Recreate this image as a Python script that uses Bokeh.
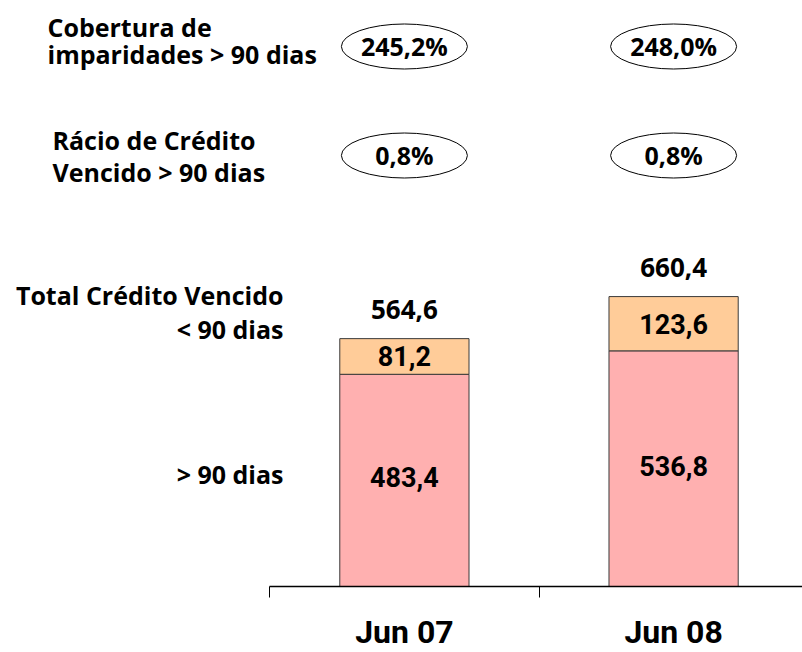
from bokeh.plotting import figure
from bokeh.models import Range1d, FixedTicker, ColumnDataSource
from bokeh.core.properties import value
from bokeh.embed import file_html
from bokeh.resources import INLINE

# ---- data ----
categories = ["Jun 07", "Jun 08"]
over_90 = [483.4, 536.8]       # Crédito vencido > 90 dias
under_90 = [81.2, 123.6]       # Crédito vencido < 90 dias
coverage = [245.2, 248.0]      # Cobertura de imparidades > 90 dias (%)
overdue_ratio = [0.8, 0.8]     # Rácio de crédito vencido > 90 dias (%)

def fmt(v, suffix=""):
    return f"{v:.1f}".replace(".", ",") + suffix

totals = [a + b for a, b in zip(over_90, under_90)]
n = len(categories)
xc = [i + 0.5 for i in range(n)]

# ---- layout geometry (pixels from the picture's top-left) ----
W, H = 802, 652
AX_Y = 586.0
PPU = 0.439
CAT0 = 269.3
CATW = 269.2

def X(px):
    return (px - CAT0) / CATW

def Y(py):
    return (AX_Y - py) / PPU

SANS = "Open Sans"
NARROW = "Roboto"

p = figure(width=W, height=H, output_backend="svg", toolbar_location=None,
           x_range=Range1d(X(0), X(W)), y_range=Range1d(Y(H), Y(0)),
           min_border=0, y_axis_location=None)
p.grid.visible = False
p.outline_line_color = None
p.background_fill_color = "white"
p.border_fill_color = "white"

ax = p.xaxis[0]
ax.ticker = FixedTicker(ticks=xc, minor_ticks=list(range(n + 1)))
ax.major_label_overrides = {x: c for x, c in zip(xc, categories)}
ax.fixed_location = 0
ax.bounds = (0, n)
ax.major_tick_line_color = None
ax.major_tick_in = 0
ax.major_tick_out = 0
ax.minor_tick_line_color = "black"
ax.minor_tick_in = 0
ax.minor_tick_out = 11
ax.minor_tick_line_width = 1
ax.axis_line_color = "black"
ax.axis_line_width = 1.5
ax.major_label_text_font = NARROW
ax.major_label_text_font_size = "32px"
ax.major_label_text_font_style = "bold"
ax.major_label_text_color = "black"
ax.major_label_standoff = 15

# ---- bars ----
src = ColumnDataSource(dict(
    x=xc, over=over_90, under=under_90, total=totals,
    mid_over=[v / 2 for v in over_90],
    mid_under=[o + u / 2 for o, u in zip(over_90, under_90)],
    lab_over=[fmt(v) for v in over_90],
    lab_under=[fmt(v) for v in under_90],
    lab_total=[fmt(v) for v in totals],
))
BW = 0.48
p.vbar(x="x", width=BW, bottom=0, top="over", source=src,
       fill_color="#FFB0B0", line_color="#3a3a3a", line_width=1)
p.vbar(x="x", width=BW, bottom="over", top="total", source=src,
       fill_color="#FFCC99", line_color="#3a3a3a", line_width=1)

p.text(x="x", y="mid_over", text="lab_over", source=src, y_offset=-3,
       text_font=value(NARROW), text_font_size="27px", text_font_style="bold",
       text_align="center", text_baseline="middle", text_color="black")
p.text(x="x", y="mid_under", text="lab_under", source=src,
       text_font=value(NARROW), text_font_size="27px", text_font_style="bold",
       text_align="center", text_baseline="middle", text_color="black")
p.text(x="x", y="total", text="lab_total", source=src, y_offset=-29,
       text_font=value(SANS), text_font_size="26px", text_font_style="bold",
       text_align="center", text_baseline="middle", text_color="black")

# ---- ellipses with ratios ----
row1_y = Y(46)
row2_y = Y(155)
esrc = ColumnDataSource(dict(
    x=xc + xc,
    y=[row1_y] * n + [row2_y] * n,
    t=[fmt(v, "%") for v in coverage] + [fmt(v, "%") for v in overdue_ratio],
))
p.ellipse(x="x", y="y", width=126, height=45, width_units="screen",
          height_units="screen", source=esrc, fill_color="white",
          line_color="black", line_width=1)
p.text(x="x", y="y", text="t", source=esrc, y_offset=-1,
       text_font=value(SANS), text_font_size="25px", text_font_style="bold",
       text_align="center", text_baseline="middle", text_color="black")

# ---- row labels ----
def label(txt, px, py, align="left"):
    p.text(x=[X(px)], y=[Y(py)], text=[txt], text_font=value(SANS),
           text_font_size="25px", text_font_style="bold", text_align=align,
           text_baseline="middle", text_color="black")

label("Cobertura de", 47, 26)
label("imparidades > 90 dias", 47, 53)
label("Rácio de Crédito", 52, 139)
label("Vencido > 90 dias", 52, 171)
label("Total Crédito Vencido", 283, 294, "right")
label("< 90 dias", 283, 328, "right")
label("> 90 dias", 283, 473, "right")

open("out.html", "w").write(file_html(p, INLINE))
